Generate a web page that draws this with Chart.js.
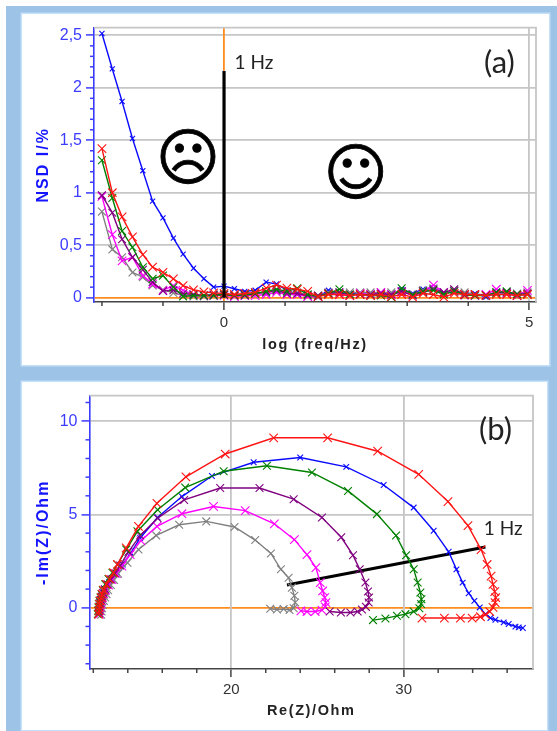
<!DOCTYPE html>
<html><head><meta charset="utf-8">
<script src="https://cdn.jsdelivr.net/npm/chart.js@4"></script>
<style>
html,body{margin:0;padding:0;background:#fff;width:557px;height:731px;overflow:hidden}
#bg{position:absolute;left:6px;top:6px;width:551px;height:725px;background:#9dc3e6}
.panel{position:absolute;background:#fff;box-shadow:0 0 0 1.5px #c4e0f9}
.panel canvas{display:block;filter:blur(0.35px)}
</style></head><body>
<div id="bg"></div>
<div class="panel" style="left:22px;top:14px;width:527px;height:351px"><canvas id="a"></canvas></div>
<div class="panel" style="left:22px;top:382px;width:525px;height:348px"><canvas id="b"></canvas></div>
<script>
// Panel (a): log frequency axis and NSD values
const logF=[-2,-1.83,-1.67,-1.5,-1.33,-1.17,-1,-0.83,-0.67,-0.5,-0.33,-0.17,0,0.17,0.34,0.51,0.69,0.86,1.03,1.2,1.37,1.54,1.71,1.89,2.06,2.23,2.4,2.57,2.74,2.91,3.09,3.26,3.43,3.6,3.77,3.94,4.11,4.29,4.46,4.63,4.8,4.97];
const nsdRed=[1.42,1,.77,.58,.41,.29,.24,.18,.115,.075,.055,.045,.04,.03,.04,.05,.09,.12,.09,.08,.06,.01,.03,.03,.02,.03,.02,.03,.01,.03,.005,.04,.03,.005,.04,.03,.03,.02,.03,.03,.02,.03];
const nsdGreen=[1.31,.95,.635,.48,.29,.18,.21,.1,.012,.02,.02,.02,.03,.02,.03,.04,.06,.08,.06,.09,.03,.01,.04,.08,.03,.03,.02,.02,.005,.09,.03,.06,.07,.03,.06,.03,.02,.02,.05,.06,.03,.03];
const nsdPurple=[.975,.81,.557,.385,.265,.148,.063,.07,.04,.03,.02,.03,.03,.02,.02,.04,.05,.07,.04,.04,.02,.02,.04,.05,.03,.03,.03,.04,.03,.06,.02,.05,.08,.05,.08,.02,.03,.02,.05,.05,.03,.04];
const nsdMagenta=[.965,.6,.35,.385,.21,.13,.07,.115,.07,.03,.02,.02,.02,.01,.02,.02,.03,.05,.03,.03,.01,.01,.04,.03,.02,.04,.03,.05,.03,.05,.03,.06,.12,.05,.06,.03,.02,.03,.08,.04,.02,.07];
const nsdGray=[.82,.46,.385,.24,.195,.115,.075,.045,.02,.01,.01,.02,.03,.02,.03,.04,.05,.06,.05,.05,.03,.02,.05,.05,.05,.05,.05,.05,.05,.06,.03,.07,.09,.05,.07,.05,.03,.03,.04,.05,.04,.05];
const nsdBlue=[2.518,2.18,1.87,1.517,1.21,.92,.76,.567,.415,.28,.18,.1,.11,.085,.06,.07,.148,.13,.07,.03,.015,.006,.07,.04,.04,.03,.03,.03,.02,.08,.04,.08,.09,.04,.07,.04,.04,.006,.045,.045,.015,.04];
const marker1HzFreq=[0,0];
const marker1HzNsd=[0,2.16];
const nsdTicksMajor=[0,.5,1,1.5,2,2.5];
const logTicksMajor=[0,5];
const logTicksMinor=[-2,-1,1,2,3,4];
const nsdTicksMinor=[.1,.2,.3,.4,.6,.7,.8,.9,1.1,1.2,1.3,1.4,1.6,1.7,1.8,1.9,2.1,2.2,2.3,2.4];
// Panel (b): Nyquist curves
const reRed=[12.3,12.32,12.34,12.36,12.4,12.46,12.51,12.59,12.75,12.94,13.17,13.4,13.91,14.62,15.69,17.37,19.65,22.46,25.59,28.49,30.87,32.57,33.73,34.49,34.84,35.07,35.18,35.28,35.34,35.3,35.18,34.99,34.74,34.45,33.97,33.29,32.36,31.06];
const imRed=[-.34,-.16,.02,.2,.37,.55,.73,.94,1.26,1.54,1.88,2.32,3.21,4.36,5.6,7.02,8.24,9.11,9.11,8.39,7.15,5.69,4.4,3.12,2.32,1.7,1.26,.87,.55,.28,.02,-.2,-.37,-.48,-.55,-.55,-.55,-.55];
const reBlue=[12.34,12.36,12.38,12.42,12.46,12.51,12.59,12.67,12.79,12.92,13.08,13.37,13.71,14.18,14.72,15.73,17.14,18.88,21.3,24,26.67,28.84,30.58,31.74,32.61,33.06,33.42,33.77,34.1,34.41,34.74,35.03,35.32,35.8,36.09,36.48,36.67,36.91];
const imBlue=[-.25,-.07,.11,.28,.46,.64,.82,.99,1.17,1.38,1.58,1.91,2.32,2.94,3.74,4.84,5.96,7.06,7.8,8.05,7.55,6.58,5.37,4.13,3,2.06,1.35,.78,.37,.02,-.34,-.55,-.64,-.78,-.87,-1.01,-1.05,-1.08];
const reGreen=[12.26,12.28,12.3,12.32,12.36,12.42,12.48,12.55,12.69,12.88,13.11,13.4,13.91,14.56,15.73,17.33,19.56,22.07,24.68,26.77,28.45,29.56,30.14,30.58,30.81,30.97,31.03,31.01,30.91,30.58,30.1,29.61,28.94,28.22];
const imGreen=[-.34,-.16,.02,.2,.37,.55,.73,.94,1.26,1.54,1.88,2.32,3.12,4.1,5.25,6.44,7.32,7.61,7.25,6.26,5.02,3.87,2.82,2.06,1.35,.82,.46,.2,-.02,-.2,-.34,-.43,-.57,-.66];
const rePurple=[12.32,12.34,12.36,12.4,12.44,12.5,12.57,12.67,12.82,13.02,13.25,13.56,14.04,14.72,15.73,17.27,19.36,21.64,23.62,25.26,26.38,27.06,27.45,27.78,27.93,27.99,27.97,27.81,27.58,27.33,26.91,26.36,25.71];
const imPurple=[-.28,-.11,.07,.25,.43,.6,.8,.99,1.26,1.52,1.84,2.27,3,3.88,4.8,5.78,6.42,6.42,5.82,4.84,3.78,2.82,2.06,1.35,.87,.55,.28,.05,-.09,-.2,-.25,-.25,-.2];
const reMagenta=[12.36,12.38,12.4,12.44,12.48,12.53,12.61,12.71,12.88,13.09,13.33,13.66,14.14,14.76,15.69,17.14,18.97,20.81,22.5,23.66,24.39,24.91,25.16,25.3,25.42,25.49,25.45,25.26,24.87,24.39,24.04];
const imMagenta=[-.34,-.16,.02,.2,.37,.55,.73,.94,1.22,1.51,1.83,2.23,2.85,3.6,4.36,5.04,5.43,5.21,4.5,3.65,2.85,2.15,1.35,.9,.55,.28,.05,-.12,-.2,-.2,-.16];
const reGray=[12.46,12.48,12.51,12.55,12.61,12.69,12.77,12.86,13.02,13.21,13.44,13.98,14.62,15.65,16.98,18.55,20.19,21.39,22.3,22.88,23.33,23.52,23.66,23.71,23.62,23.38,23.04,22.65,22.26];
const imGray=[-.37,-.2,-.02,.16,.37,.55,.73,.94,1.22,1.49,1.83,2.41,3.12,3.88,4.45,4.63,4.33,3.63,2.91,2.06,1.61,1.08,.64,.28,-.02,-.12,-.07,-.09,-.05];
const marker1HzRe=[23.23,34.74];
const marker1HzIm=[1.22,3.26];
const imTicksMajor=[0,5,10];
const imTicksMinor=[-3,-2,-1,1,2,3,4,6,7,8,9,11];
const reTicksMajor=[20,30];
const reTicksMinor=[12,14,16,18,22,24,26,28,32,34,36];

const RED='#ff1414',GREEN='#008000',PURPLE='#800080',MAGENTA='#ff00ff',GRAY='#808080',BLUE='#0a0aff';
const AXBLUE='#3c3cff',ORANGE='#ff8c1e',GRID='#c6c6c6',DARK='#444444';
const FONT='"Liberation Sans",Arial,sans-serif';

const origTitle=Chart.LinearScale.prototype.drawTitle;
Chart.LinearScale.prototype.drawTitle=function(){
  const c=this.ctx;c.save();c.letterSpacing=this.axis==='y'?'2px':'1.6px';origTitle.call(this);c.restore();
};

const zip=(xs,ys)=>xs.map((x,i)=>({x,y:ys[i]}));
const series=(xs,ys,color,r)=>({data:zip(xs,ys),borderColor:color,borderWidth:1.4,showLine:true,tension:0,
  pointStyle:'crossRot',pointRadius:r,pointBorderColor:color,pointBorderWidth:1.1,pointBackgroundColor:color});
const thick=(xs,ys)=>({data:zip(xs,ys),borderColor:'#000',borderWidth:3.2,showLine:true,pointRadius:0,borderCapStyle:'butt'});

const decor={id:'decor',
  beforeDatasetsDraw(ch,_,o){
    const {ctx,chartArea:A,scales:{x,y}}=ch;
    ctx.save();
    ctx.strokeStyle=GRID;ctx.lineWidth=1.8;
    ctx.beginPath();ctx.moveTo(A.left,A.top);ctx.lineTo(A.right,A.top);ctx.lineTo(A.right,A.bottom);ctx.stroke();
    (o.halos||[]).forEach(h=>{ctx.fillStyle='#fff';ctx.beginPath();
      ctx.arc(x.getPixelForValue(h.x),y.getPixelForValue(h.y),h.r,0,Math.PI*2);ctx.fill();});
    // minor ticks
    ctx.lineWidth=1.5;ctx.strokeStyle=AXBLUE;
    o.minorY.forEach(v=>{const p=y.getPixelForValue(v);ctx.beginPath();ctx.moveTo(A.left,p);ctx.lineTo(A.left-4,p);ctx.stroke();});
    ctx.strokeStyle=DARK;
    o.minorX.forEach(v=>{const p=x.getPixelForValue(v);ctx.beginPath();ctx.moveTo(p,A.bottom);ctx.lineTo(p,A.bottom+4);ctx.stroke();});
    ctx.restore();
  },
  afterDatasetsDraw(ch,_,o){
    const {ctx,scales:{x,y}}=ch;
    ctx.save();ctx.textAlign='center';ctx.textBaseline='middle';
    (o.labels||[]).forEach(l=>{ctx.font=l.font;ctx.fillStyle=l.color||'#222';
      const px=x.getPixelForValue(l.x),py=y.getPixelForValue(l.y);
      ctx.fillText(l.text,px,py);
      if(l.stroke){ctx.strokeStyle=l.color;ctx.lineWidth=l.stroke;ctx.strokeText(l.text,px,py);}});
    ctx.restore();
  }
};

function make(id,w,h,cfg){
  const cv=document.getElementById(id);
  cv.width=w;cv.height=h;cv.style.width=w+'px';cv.style.height=h+'px';
  const tick=(t)=>s=>{s.ticks=t.map(value=>({value}));};
  return new Chart(cv,{type:'scatter',plugins:[decor],
    data:{datasets:cfg.datasets},
    options:{responsive:false,animation:false,devicePixelRatio:1,
      layout:{padding:cfg.pad},
      plugins:{legend:{display:false},tooltip:{enabled:false},title:{display:false},
        decor:{labels:cfg.labels,halos:cfg.halos,minorX:cfg.minorX,minorY:cfg.minorY}},
      scales:{
        x:{type:'linear',min:cfg.xr[0],max:cfg.xr[1],afterBuildTicks:tick(cfg.majorX),
          afterFit:s=>{s.height=cfg.xh;},
          border:{color:DARK,width:1.6},
          grid:{color:c=>c.tick&&c.tick.value===cfg.orangeX?ORANGE:GRID,lineWidth:1.8,tickLength:8,tickColor:DARK,tickWidth:1.5,z:0},
          ticks:{autoSkip:false,maxRotation:0,padding:4,color:'#333',font:{family:FONT,size:15},callback:v=>String(v)},
          title:{display:true,text:cfg.xt,color:'#222',font:{family:FONT,size:14.5,weight:'bold'},padding:{top:0,bottom:cfg.xtp}}},
        y:{type:'linear',min:cfg.yr[0],max:cfg.yr[1],afterBuildTicks:tick(cfg.majorY),
          afterFit:s=>{s.width=cfg.yw;},
          border:{color:AXBLUE,width:1.6},
          grid:{color:c=>c.tick&&c.tick.value===0?ORANGE:GRID,lineWidth:1.8,tickLength:8,tickColor:AXBLUE,tickWidth:1.5},
          ticks:{autoSkip:false,padding:4,color:AXBLUE,font:{family:FONT,size:16},callback:v=>String(v).replace('.',',')},
          title:{display:true,text:cfg.yt,color:'#1414ff',font:{family:FONT,size:16,weight:'bold'},padding:{top:11.5,bottom:0}}}
      }}});
}

make('a',527,351,{
  pad:{left:0,top:11,right:13,bottom:0},xh:63,yw:72,xtp:11.5,
  xr:[-2.13,5.11],yr:[-0.0415,2.574],majorX:logTicksMajor,majorY:nsdTicksMajor,
  minorX:logTicksMinor,minorY:nsdTicksMinor,orangeX:0,
  xt:'log (freq/Hz)',yt:'NSD I/%',
  halos:[{x:-0.59,y:1.33,r:27},{x:2.16,y:1.19,r:26}],
  labels:[
    {text:'1 Hz',x:0.49,y:2.24,font:'19px Lato'},
    {text:'(a)',x:4.51,y:2.24,font:'31px Lato'},
    {text:'\u2639',x:-0.59,y:1.28,font:'bold 62px "DejaVu Sans"',color:'#000',stroke:0.8},
    {text:'\u263A',x:2.16,y:1.14,font:'bold 62px "DejaVu Sans"',color:'#000',stroke:0.8}],
  datasets:[
    thick(marker1HzFreq,marker1HzNsd),
    series(logF,nsdRed,RED,6),series(logF,nsdGreen,GREEN,5.5),series(logF,nsdPurple,PURPLE,5.5),
    series(logF,nsdMagenta,MAGENTA,6),series(logF,nsdGray,GRAY,5.5),series(logF,nsdBlue,BLUE,3.6)]
});
make('b',525,348,{
  pad:{left:0,top:11.5,right:14,bottom:0},xh:61,yw:67.5,xtp:10.5,
  xr:[11.78,37.5],yr:[-3.28,11.37],majorX:reTicksMajor,majorY:imTicksMajor,
  minorX:reTicksMinor,minorY:imTicksMinor,orangeX:null,
  xt:'Re(Z)/Ohm',yt:'-Im(Z)/Ohm',
  labels:[
    {text:'1 Hz',x:35.77,y:4.24,font:'19px Lato'},
    {text:'(b)',x:35.32,y:9.52,font:'31px Lato'}],
  datasets:[
    series(reRed,imRed,RED,6),series(reGreen,imGreen,GREEN,5.5),series(rePurple,imPurple,PURPLE,5.5),
    series(reMagenta,imMagenta,MAGENTA,6),series(reGray,imGray,GRAY,5.5),series(reBlue,imBlue,BLUE,4),
    thick(marker1HzRe,marker1HzIm)]
});
</script>
</body></html>
